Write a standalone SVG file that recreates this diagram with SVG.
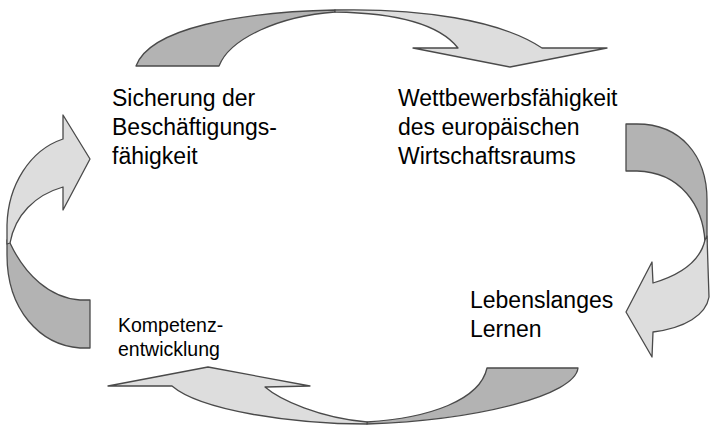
<svg xmlns="http://www.w3.org/2000/svg" width="720" height="444" viewBox="0 0 720 444">
<style>
.d{fill:#b3b3b3;stroke:#4a4a4a;stroke-width:1.3;stroke-linejoin:round}
.l{fill:#dddddd;stroke:#4a4a4a;stroke-width:1.3;stroke-linejoin:round}
text{font-family:"Liberation Sans",Arial,sans-serif;fill:#000}
.t{font-size:23px}
.s{font-size:19.5px}
</style>
<rect width="720" height="444" fill="#fff"/>
<g id="connectors">
<g id="arrow-top">
<path class="d" d="M136,66 C150,28 240,12 335,10 L335,12 C280,16 230,38 219,66 Z"/>
<path class="l" d="M335,10 C420,8 500,20 542,48 L607,48 L510,67 L413,48 L458,48 C440,25 400,13 335,12 Z"/>
</g>
<g id="arrow-right">
<path class="d" d="M626,124 L637,124 C680,124 707,155 707,200 L707,242 L705,242 C703,205 680,172 637,171 L626,171 Z"/>
<path class="l" d="M707,236 L709,297 C706,315 685,328 653,332 L652,357 L626,312 L652,262 L653,283 C680,275 700,262 705,240 Z"/>
</g>
<g id="arrow-bottom">
<path class="d" d="M487,368 L578,368 C575,395 480,420 367,424 L367,422 C430,418 480,400 487,368 Z"/>
<path class="l" d="M367,424 C290,424 200,410 172,386 L108,386 L208,367 L310,386 L265,387 C280,400 320,418 367,422 Z"/>
</g>
<g id="arrow-left">
<path class="d" d="M90,300 L90,348 L80,348 C40,345 7,310 7,255 L7,240 L10,243 C25,275 50,298 80,300 Z"/>
<path class="l" d="M7,244 L7,225 C8,185 30,150 63,139 L63,115 L90,159 L63,210 L63,187 C35,195 15,215 10,243 Z"/>
</g>
</g>
<g id="node-sicherung">
<text class="t" x="112" y="106">Sicherung der</text>
<text class="t" x="112" y="135">Beschäftigungs-</text>
<text class="t" x="112" y="164">fähigkeit</text>
</g>
<g id="node-wettbewerb">
<text class="t" x="398" y="106">Wettbewerbsfähigkeit</text>
<text class="t" x="398" y="135">des europäischen</text>
<text class="t" x="398" y="164">Wirtschaftsraums</text>
</g>
<g id="node-lebenslanges">
<text class="t" x="470" y="308">Lebenslanges</text>
<text class="t" x="470" y="337">Lernen</text>
</g>
<g id="node-kompetenz">
<text class="s" x="118" y="332">Kompetenz-</text>
<text class="s" x="118" y="356">entwicklung</text>
</g>
</svg>
